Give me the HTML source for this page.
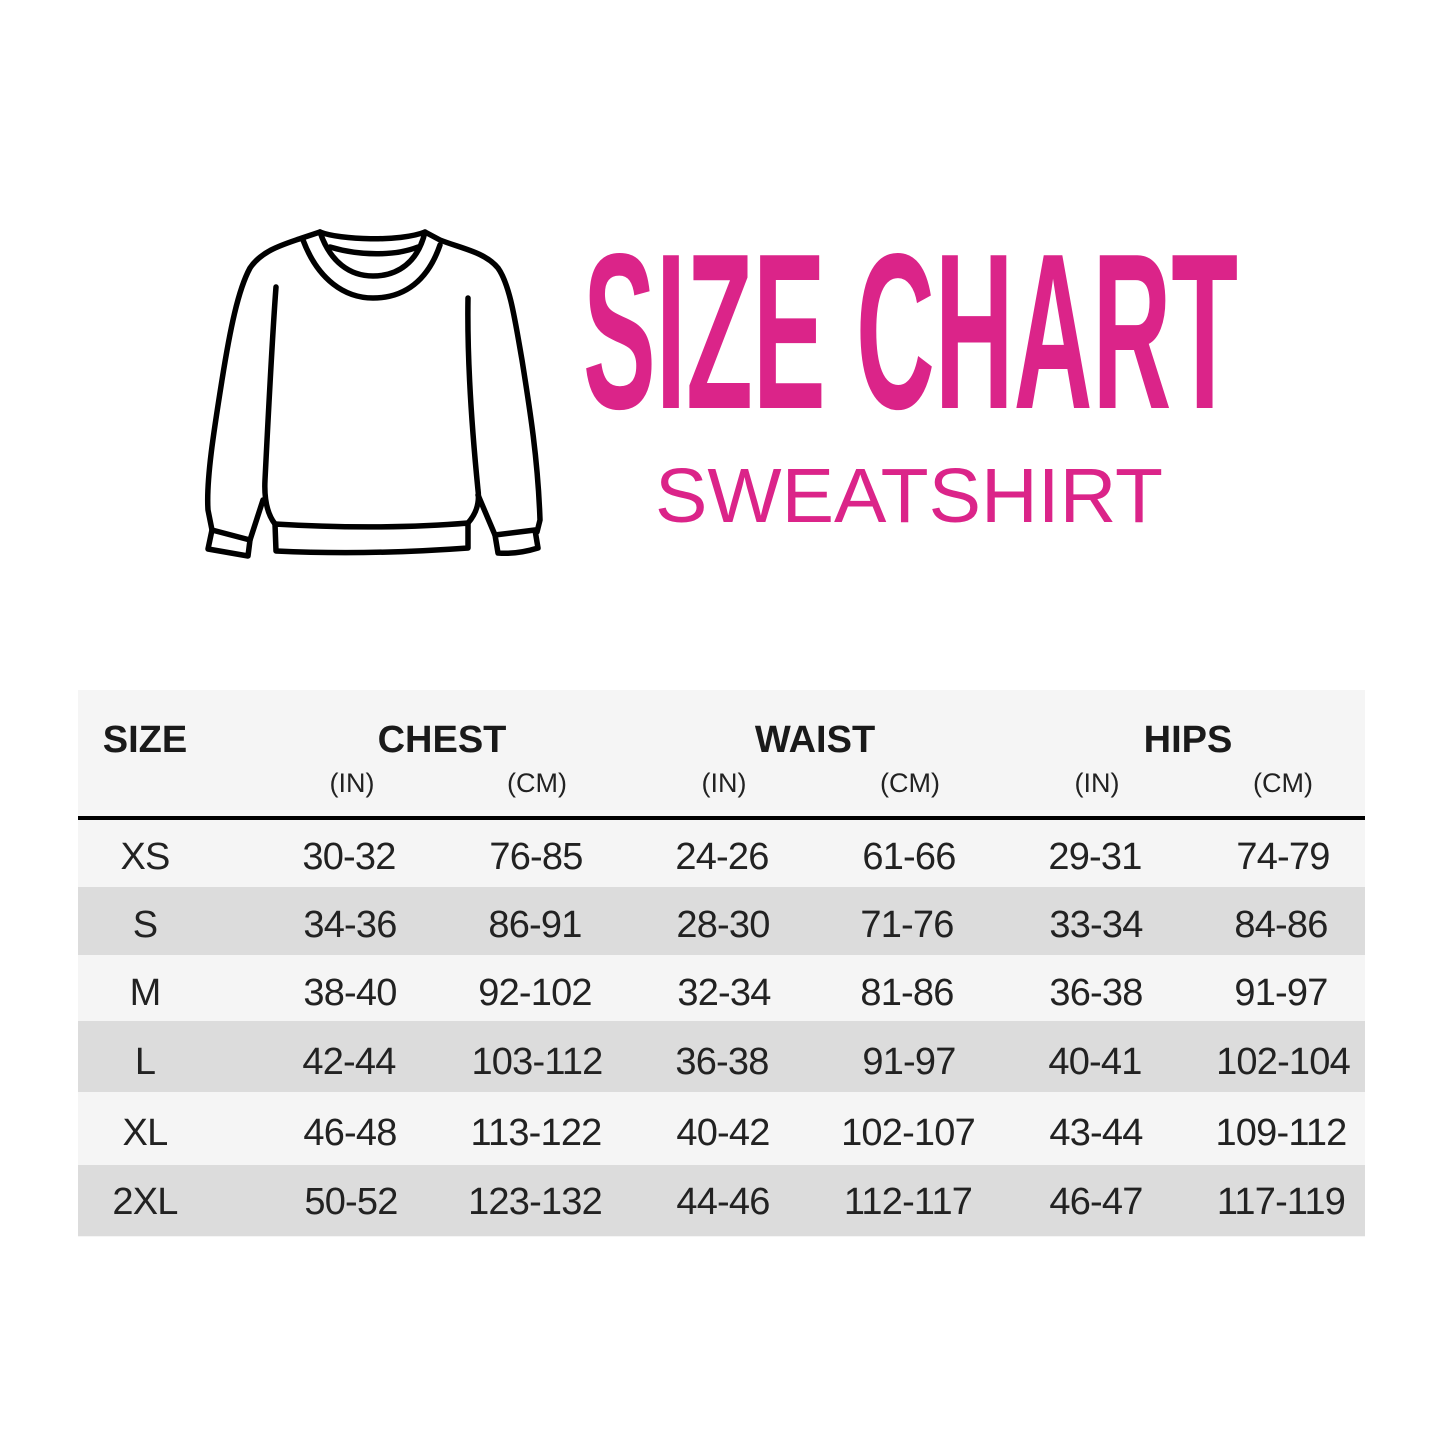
<!DOCTYPE html>
<html><head><meta charset="utf-8"><style>html,body{margin:0;padding:0;background:#fff}svg{display:block}</style></head>
<body>
<svg width="1445" height="1445" viewBox="0 0 1445 1445" xmlns="http://www.w3.org/2000/svg" font-family="Liberation Sans, sans-serif">
<rect width="1445" height="1445" fill="#fff"/>
<g fill="none" stroke="#000" stroke-width="5.5" stroke-linecap="round" stroke-linejoin="round">
<path d="M320,232 C340,240 400,242 425,232 L440,240 C460,248 485,252 498,268 C510,285 515,320 522,360 C530,410 538,460 540,520 L537,532"/>
<path d="M320,232 L302,238 C285,244 262,250 250,268 C238,290 230,330 222,380 C214,430 206,480 208,510 L212,530"/>
<path d="M303,240 C318,280 345,298 373,298 C405,298 428,280 440,245"/>
<path d="M320,232 C330,262 350,276 373,276 C398,276 418,262 425,232"/>
<path d="M330,247 C360,256 395,256 418,247"/>
<path d="M276,287 C272,340 268,420 265,480 C264,500 268,515 275,524"/>
<path d="M468,298 C467,360 472,430 478,490 C480,505 475,515 468,523"/>
<path d="M275,524 C340,528 410,528 468,523 L468,548 C400,553 340,554 276,551 Z"/>
<path d="M212,530 L250,540 L248,556 L208,549 Z"/>
<path d="M263,500 L250,540"/>
<path d="M495,535 L535,530 L538,548 C525,552 510,554 498,553 Z"/>
<path d="M478,495 L495,535"/>
</g>
<text x="583" y="408" font-size="222" font-weight="bold" fill="#db2489" textLength="655" lengthAdjust="spacingAndGlyphs">SIZE CHART</text>
<text x="655" y="522" font-size="77" fill="#db2489" textLength="508" lengthAdjust="spacingAndGlyphs">SWEATSHIRT</text>
<rect x="78" y="690" width="1287" height="547" fill="#f5f5f5"/>
<rect x="78" y="887" width="1287" height="68" fill="#dcdcdc"/>
<rect x="78" y="1021" width="1287" height="71" fill="#dcdcdc"/>
<rect x="78" y="1165" width="1287" height="71" fill="#dcdcdc"/>
<rect x="78" y="816" width="1287" height="4" fill="#000"/>
<g fill="#1a1a1a" font-weight="bold" font-size="38" text-anchor="middle">
<text x="145" y="752">SIZE</text>
<text x="442" y="752">CHEST</text>
<text x="815" y="752">WAIST</text>
<text x="1188" y="752">HIPS</text>
</g>
<g fill="#222" font-size="27" text-anchor="middle">
<text x="352" y="792">(IN)</text><text x="537" y="792">(CM)</text>
<text x="724" y="792">(IN)</text><text x="910" y="792">(CM)</text>
<text x="1097" y="792">(IN)</text><text x="1283" y="792">(CM)</text>
</g>
<g fill="#222" font-size="38" text-anchor="middle" letter-spacing="-0.8">
<text x="145" y="869">XS</text><text x="349" y="869">30-32</text><text x="536" y="869">76-85</text><text x="722" y="869">24-26</text><text x="909" y="869">61-66</text><text x="1095" y="869">29-31</text><text x="1283" y="869">74-79</text>
<text x="145" y="937">S</text><text x="350" y="937">34-36</text><text x="535" y="937">86-91</text><text x="723" y="937">28-30</text><text x="907" y="937">71-76</text><text x="1096" y="937">33-34</text><text x="1281" y="937">84-86</text>
<text x="145" y="1005">M</text><text x="350" y="1005">38-40</text><text x="535" y="1005">92-102</text><text x="724" y="1005">32-34</text><text x="907" y="1005">81-86</text><text x="1096" y="1005">36-38</text><text x="1281" y="1005">91-97</text>
<text x="145" y="1074">L</text><text x="349" y="1074">42-44</text><text x="537" y="1074">103-112</text><text x="722" y="1074">36-38</text><text x="909" y="1074">91-97</text><text x="1095" y="1074">40-41</text><text x="1283" y="1074">102-104</text>
<text x="145" y="1145">XL</text><text x="350" y="1145">46-48</text><text x="536" y="1145">113-122</text><text x="723" y="1145">40-42</text><text x="908" y="1145">102-107</text><text x="1096" y="1145">43-44</text><text x="1281" y="1145">109-112</text>
<text x="145" y="1214">2XL</text><text x="351" y="1214">50-52</text><text x="535" y="1214">123-132</text><text x="723" y="1214">44-46</text><text x="908" y="1214">112-117</text><text x="1096" y="1214">46-47</text><text x="1281" y="1214">117-119</text>
</g>
</svg>
</body></html>
